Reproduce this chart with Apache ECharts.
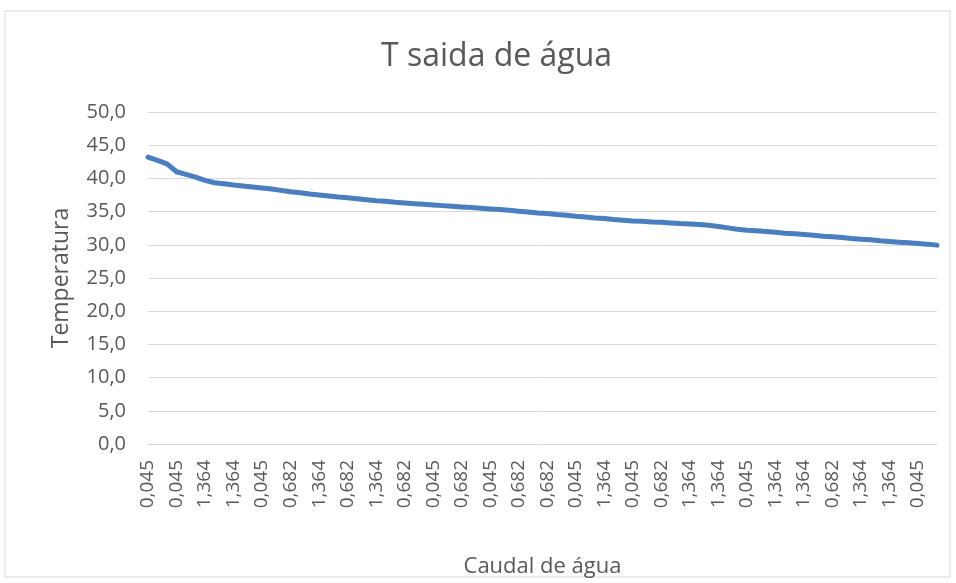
<!DOCTYPE html>
<html>
<head>
<meta charset="utf-8">
<title>T saida de água</title>
<script src="https://cdn.jsdelivr.net/npm/echarts@6/dist/echarts.min.js"></script>
<style>
  html, body { margin: 0; padding: 0; background: #fff; }
  #chart { width: 956px; height: 583px; }
</style>
</head>
<body>
<div id="chart"></div>
<script>
// rótulos visíveis do eixo x (um em cada 3 pontos)
var tickLabels = ['0,045','0,045','1,364','1,364','0,045','0,682','1,364','0,682','1,364','0,682',
                  '0,045','0,682','0,045','0,682','0,682','0,045','1,364','0,045','0,682','1,364',
                  '1,364','0,045','1,364','1,364','0,682','1,364','1,364','0,045'];
var labelStep = 3;

// temperatura de saida de água
var tempSaida = [43.2, 42.7, 42.2, 41.0, 40.6, 40.2, 39.7, 39.35, 39.2, 39.0,
                 38.85, 38.7, 38.55, 38.4, 38.2, 38.0, 37.85, 37.65, 37.5, 37.35,
                 37.2, 37.1, 36.95, 36.8, 36.65, 36.55, 36.4, 36.3, 36.2, 36.1,
                 36.0, 35.9, 35.8, 35.7, 35.6, 35.5, 35.4, 35.3, 35.2, 35.05,
                 34.95, 34.8, 34.7, 34.55, 34.45, 34.3, 34.2, 34.05, 33.95, 33.8,
                 33.7, 33.6, 33.55, 33.45, 33.4, 33.3, 33.2, 33.15, 33.05, 32.95,
                 32.75, 32.55, 32.35, 32.2, 32.1, 32.0, 31.9, 31.75, 31.65, 31.55,
                 31.45, 31.3, 31.2, 31.1, 30.95, 30.85, 30.75, 30.6, 30.5, 30.4,
                 30.3, 30.2, 30.1, 29.95];

var caudal = [];
for (var i = 0; i < tempSaida.length; i++) {
    caudal.push(i % labelStep === 0 ? tickLabels[i / labelStep] : '');
}

var fonte = '"Open Sans", "Noto Sans", sans-serif';
var cinza = '#595959';

var chart = echarts.init(document.getElementById('chart'));
var option = {
    animation: false,
    backgroundColor: '#fff',
    title: {
        text: 'T saida de água',
        left: 376,
        top: 36,
        textStyle: { fontFamily: fonte, fontSize: 32, fontWeight: 'normal', color: cinza }
    },
    graphic: [{
        type: 'rect',
        shape: { x: 5, y: 11, width: 945, height: 566 },
        style: { fill: 'none', stroke: '#d9d9d9', lineWidth: 1 },
        silent: true
    }],
    grid: { left: 148, right: 19, top: 112, bottom: 139, outerBoundsMode: 'none' },
    xAxis: {
        type: 'category',
        data: caudal,
        boundaryGap: false,
        name: 'Caudal de água',
        nameLocation: 'middle',
        nameGap: 112,
        nameTextStyle: { fontFamily: fonte, fontSize: 22, color: cinza },
        axisLine: { lineStyle: { color: '#d9d9d9', width: 1 } },
        axisTick: { show: false },
        axisLabel: {
            interval: labelStep - 1,
            rotate: 90,
            margin: 16,
            fontFamily: fonte,
            fontSize: 19,
            color: cinza
        }
    },
    yAxis: {
        type: 'value',
        min: 0,
        max: 50,
        interval: 5,
        name: 'Temperatura',
        nameLocation: 'middle',
        nameGap: 75,
        nameTextStyle: { fontFamily: fonte, fontSize: 23, color: cinza },
        axisLine: { show: false },
        axisTick: { show: false },
        splitLine: { lineStyle: { color: '#d9d9d9', width: 1 } },
        axisLabel: {
            margin: 22,
            fontFamily: fonte,
            fontSize: 20,
            color: cinza,
            formatter: function (v) { return v.toFixed(1).replace('.', ','); }
        }
    },
    series: [{
        name: 'T saida de água',
        type: 'line',
        data: tempSaida,
        showSymbol: false,
        symbol: 'none',
        lineStyle: { color: '#4a7ebf', width: 5, cap: 'round', join: 'round' },
        itemStyle: { color: '#4a7ebf' }
    }]
};
chart.setOption(option);
</script>
</body>
</html>
